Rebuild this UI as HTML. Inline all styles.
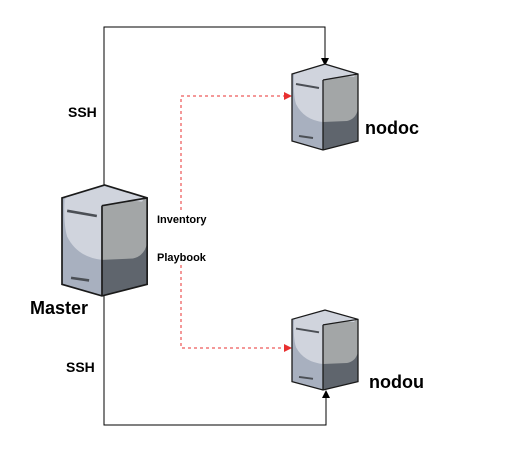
<!DOCTYPE html>
<html><head><style>
html,body{margin:0;padding:0;background:#fff;}
svg{display:block;font-family:"Liberation Sans",sans-serif;font-weight:bold;}
</style></head><body>
<svg width="512" height="450" viewBox="0 0 512 450" xmlns="http://www.w3.org/2000/svg">
<defs>
<g id="srv">
<path d="M0 10 L33 0 L66 10 L66 77 L31 86 L0 77 Z" fill="#a8b0bf"/>
<path d="M31 16 L66 10 L66 77 L31 86 Z" fill="#5f656d"/>
<path d="M31 16 L66 10 L66 45 Q64 55 55 57 L31 58 Z" fill="#a3a6a7"/>
<path d="M2 10 L33 1 L64 10 L62 13 Q50 12 31 16 Z" fill="#d0d4dd"/>
<path d="M2 11 Q8 5 31 16 L31 58 Q12 56 4 40 Q1 30 2 11 Z" fill="#d0d4dd"/>
<path d="M31 16 Q50 11 62 13 Q66 14 66 20 L31 20 Z" fill="#a3a6a7"/>
<path d="M0 10 L33 0 L66 10 L66 77 L31 86 L0 77 Z M31 16 L66 10 M31 16 L31 86" fill="none" stroke="#1a1a1a" stroke-width="1.3"/>
<line x1="4" y1="20" x2="27" y2="24" stroke="#4b4f55" stroke-width="2"/>
<line x1="7" y1="72" x2="21" y2="74" stroke="#4b4f55" stroke-width="2"/>
</g>
<marker id="ab" markerWidth="8" markerHeight="8" refX="7" refY="4" orient="auto" markerUnits="userSpaceOnUse"><path d="M0 0 L8 4 L0 8 Z" fill="#000"/></marker>
<marker id="ar" markerWidth="8" markerHeight="8" refX="7" refY="4" orient="auto" markerUnits="userSpaceOnUse"><path d="M0 0 L8 4 L0 8 Z" fill="#e83030"/></marker>
</defs>
<path d="M104 185 L104 27 L325 27 L325 65" fill="none" stroke="#000" stroke-width="1" marker-end="url(#ab)"/>
<path d="M104 296 L104 425 L326 425 L326 391" fill="none" stroke="#000" stroke-width="1" marker-end="url(#ab)"/>
<path d="M181 210 L181 96 L291 96" fill="none" stroke="#e83030" stroke-dasharray="3,3" marker-end="url(#ar)"/>
<path d="M181 265 L181 348 L291 348" fill="none" stroke="#e83030" stroke-dasharray="3,3" marker-end="url(#ar)"/>
<use href="#srv" transform="translate(62,185) scale(1.29,1.29)"/>
<use href="#srv" transform="translate(292,64)"/>
<use href="#srv" transform="translate(292,310) scale(1,0.93)"/>
<text x="68" y="117" font-size="14">SSH</text>
<text x="66" y="372" font-size="14">SSH</text>
<text x="30" y="314" font-size="18">Master</text>
<text x="365" y="134" font-size="18">nodoc</text>
<text x="369" y="388" font-size="18">nodou</text>
<text x="157" y="223" font-size="11">Inventory</text>
<text x="157" y="261" font-size="11">Playbook</text>
</svg>
</body></html>
